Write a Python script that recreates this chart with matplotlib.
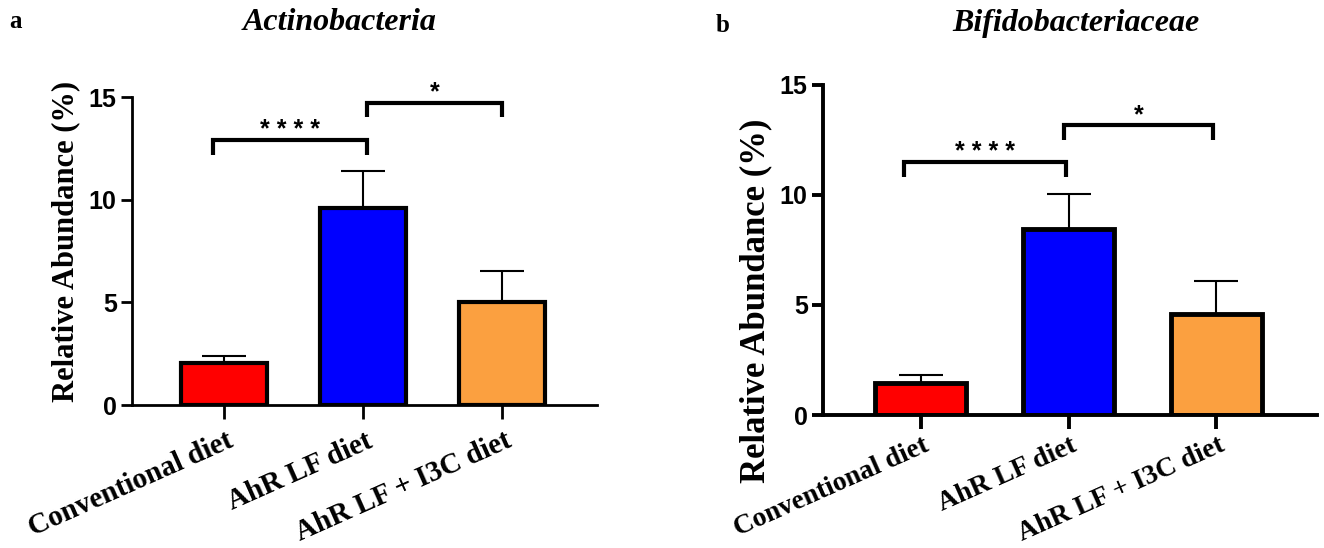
import matplotlib
matplotlib.use("Agg")
import matplotlib.pyplot as plt
import matplotlib.transforms as mtransforms
import numpy as np

SERIF = "Liberation Serif"
SANS = "Liberation Sans"

GROUPS = ["Conventional diet", "AhR LF diet", "AhR LF + I3C diet"]
COLORS = ["#FF0000", "#0000FF", "#FBA040"]

# panel a: Actinobacteria
MEAN_A = [2.03, 9.60, 5.00]
ERR_A = [0.35, 1.82, 1.55]
BRACKET_X_A = [(-0.08, 1.03), (1.03, 2.0)]
BRACKET_Y_A = [12.9, 14.72]
BRACKET_TXT_A = ["* * * *", "*"]

# panel b: Bifidobacteriaceae
MEAN_B = [1.47, 8.44, 4.58]
ERR_B = [0.35, 1.61, 1.51]
BRACKET_X_B = [(-0.11, 0.985), (0.97, 1.98)]
BRACKET_Y_B = [11.51, 13.18]
BRACKET_TXT_B = ["* * * *", "*"]

YTICKS = [0, 5, 10, 15]


def draw_panel(ax, means, errs, bx, by, btxt, spine_lw, bar_lw, px_per_unit,
               xlab_size=21, xlab_pad=6):
    x = np.arange(len(GROUPS))
    ax.errorbar(x, means, yerr=[np.zeros(len(errs)), errs], fmt="none",
                ecolor="black", elinewidth=1.5, capsize=16, capthick=1.5, zorder=1)
    ax.bar(x, means, width=0.62, color=COLORS, edgecolor="black",
           linewidth=bar_lw, zorder=2)

    leg = 0.7
    lift = 3.0 / px_per_unit
    for (x1, x2), y, t in zip(bx, by, btxt):
        ax.plot([x1, x1, x2, x2], [y - leg, y, y, y - leg], color="black",
                lw=3.0, solid_joinstyle="miter", solid_capstyle="butt",
                clip_on=False, zorder=3)
        ax.text((x1 + x2) / 2, y + lift, t, ha="center", va="baseline",
                fontsize=18, fontweight="bold", family=SANS)

    ax.set_xlim(-0.66, 2.68)
    ax.set_ylim(0, 15)
    ax.set_yticks(YTICKS)
    ax.set_xticks(x)
    ax.set_xticklabels(GROUPS, rotation=24, ha="right", rotation_mode="anchor",
                       fontsize=xlab_size, fontweight="bold", family=SERIF)
    for lab in ax.get_yticklabels():
        lab.set_fontsize(18)
        lab.set_fontweight("bold")
        lab.set_family(SANS)
    for s in ["top", "right"]:
        ax.spines[s].set_visible(False)
    for s in ["left", "bottom"]:
        ax.spines[s].set_linewidth(spine_lw)
    ax.tick_params(axis="y", length=8, width=spine_lw, pad=3)
    ax.tick_params(axis="x", length=10, width=spine_lw, pad=xlab_pad)
    offset = mtransforms.ScaledTranslation(2 / 100, 0, ax.figure.dpi_scale_trans)
    for lab in ax.get_xticklabels():
        lab.set_transform(lab.get_transform() + offset)


fig = plt.figure(figsize=(13.24, 5.48), dpi=100)
ax_a = fig.add_axes([0.0997, 0.2609, 0.3512, 0.5620])
ax_b = fig.add_axes([0.6216, 0.2427, 0.3731, 0.6022])

draw_panel(ax_a, MEAN_A, ERR_A, BRACKET_X_A, BRACKET_Y_A, BRACKET_TXT_A,
           2.0, 3.0, 20.55)
draw_panel(ax_b, MEAN_B, ERR_B, BRACKET_X_B, BRACKET_Y_B, BRACKET_TXT_B,
           2.8, 3.5, 22.0, xlab_size=20, xlab_pad=3)

ax_a.set_ylabel("Relative Abundance (%)", fontsize=22, fontweight="bold", family=SERIF)
ax_a.yaxis.label.set_va("center")
ax_a.yaxis.set_label_coords(-0.142, 0.532)
ax_b.set_ylabel("Relative Abundance (%)", fontsize=25, fontweight="bold", family=SERIF)
ax_b.yaxis.label.set_va("center")
ax_b.yaxis.set_label_coords(-0.136, 0.345)

fig.text(16 / 1324, 1 - 22 / 548, "a", fontsize=18, fontweight="bold",
         family=SERIF, ha="center", va="center")
fig.text(340 / 1324, 1 - 22 / 548, "Actinobacteria", fontsize=23,
         fontweight="bold", fontstyle="italic", family=SERIF, ha="center", va="center")
fig.text(723 / 1324, 1 - 25 / 548, "b", fontsize=18, fontweight="bold",
         family=SERIF, ha="center", va="center")
fig.text(1076 / 1324, 1 - 23 / 548, "Bifidobacteriaceae", fontsize=23,
         fontweight="bold", fontstyle="italic", family=SERIF, ha="center", va="center")

fig.savefig("out.png", dpi=100, facecolor="white")
